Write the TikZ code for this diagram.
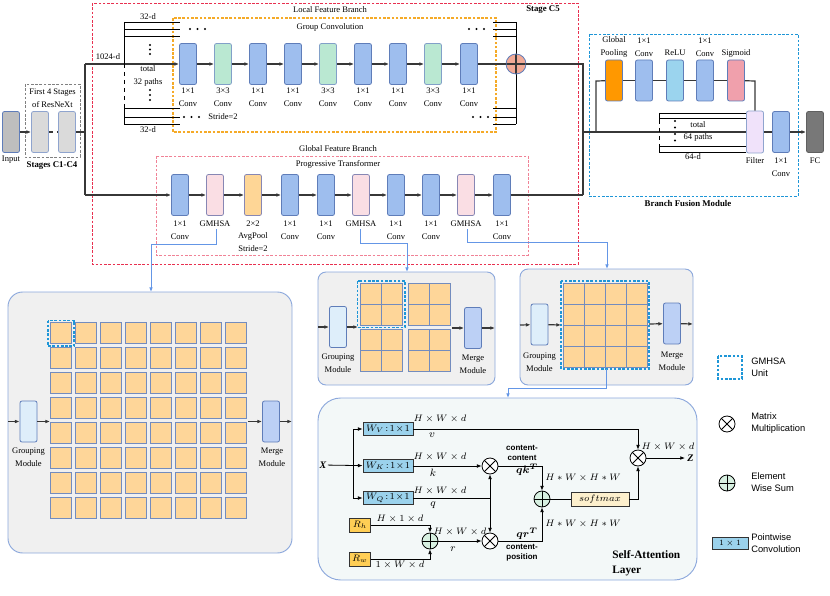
\documentclass[tikz,border=0pt]{standalone}
\usepackage{amsmath}
\usepackage{fontspec}
\setmainfont{Liberation Serif}
\setsansfont{Liberation Sans}
\usetikzlibrary{arrows.meta}
\definecolor{convblue}{RGB}{158,190,238}
\definecolor{convedge}{RGB}{95,125,185}
\definecolor{green3}{RGB}{186,232,210}
\definecolor{greenedge}{RGB}{130,160,200}
\definecolor{gmpink}{RGB}{250,222,228}
\definecolor{pinkedge}{RGB}{135,135,180}
\definecolor{avgor}{RGB}{254,214,150}
\definecolor{gpor}{RGB}{255,152,0}
\definecolor{reluc}{RGB}{155,212,238}
\definecolor{sigc}{RGB}{240,160,172}
\definecolor{filterc}{RGB}{240,226,250}
\definecolor{fcc}{RGB}{120,120,120}
\definecolor{inputc}{RGB}{190,190,190}
\definecolor{stagec}{RGB}{218,218,218}
\definecolor{sumc}{RGB}{242,170,150}
\definecolor{cellc}{RGB}{254,214,153}
\definecolor{celledge}{RGB}{115,140,190}
\definecolor{panelc}{RGB}{240,240,240}
\definecolor{paneledge}{RGB}{140,168,220}
\definecolor{grpc}{RGB}{222,238,250}
\definecolor{mrgc}{RGB}{188,208,245}
\definecolor{wbox}{RGB}{155,210,236}
\definecolor{rbox}{RGB}{255,206,85}
\definecolor{smc}{RGB}{253,240,205}
\definecolor{plusc}{RGB}{215,240,225}
\definecolor{redd}{RGB}{232,48,80}
\definecolor{orad}{RGB}{245,170,40}
\definecolor{pinkd}{RGB}{240,130,150}
\definecolor{blued}{RGB}{30,150,215}
\definecolor{linkc}{RGB}{100,150,230}
\definecolor{lineg}{RGB}{55,55,55}
\definecolor{sapanel}{RGB}{243,248,248}
\begin{document}
\begin{tikzpicture}[x=0.75pt,y=-0.75pt,
 font=\fontsize{6.4}{9.5}\selectfont,
 >={Latex[length=3.5pt,width=2.8pt]},
 blk/.style={rectangle, rounded corners=1.5pt, minimum width=12.75pt, minimum height=30.75pt, inner sep=0pt, line width=0.6pt},
 cb/.style={blk, fill=convblue, draw=convedge},
 gb/.style={blk, fill=green3, draw=greenedge},
 pb/.style={blk, fill=gmpink, draw=pinkedge},
 ob/.style={blk, fill=avgor, draw=pinkedge},
 txt/.style={inner sep=0pt, align=center},
 mainln/.style={draw=lineg, line width=0.9pt},
 thinln/.style={draw=black, line width=0.6pt},
 link/.style={draw=linkc, line width=0.7pt, ->},
 cell/.style={fill=cellc, draw=celledge, line width=0.5pt},
 panel/.style={fill=panelc, draw=paneledge, line width=0.7pt},
 hl/.style={draw=blued, line width=0.9pt, dash pattern=on 2pt off 1.2pt},
 otm/.style={circle, draw=black, fill=white, minimum size=12pt, inner sep=0pt, line width=0.6pt,
   path picture={\draw[line width=0.6pt] (path picture bounding box.north west)--(path picture bounding box.south east) (path picture bounding box.north east)--(path picture bounding box.south west);}},
 opl/.style={circle, draw=black, fill=plusc, minimum size=12pt, inner sep=0pt, line width=0.6pt,
   path picture={\draw[line width=0.6pt] (path picture bounding box.north)--(path picture bounding box.south) (path picture bounding box.east)--(path picture bounding box.west);}},
 mathlbl/.style={inner sep=0pt, font=\fontsize{7}{8}\selectfont},
 varlbl/.style={inner sep=0pt, font=\fontsize{8}{9}\selectfont},
 sansb/.style={inner sep=0pt, align=center, font=\fontsize{6}{7.5}\selectfont\sffamily\bfseries},
 legt/.style={inner sep=0pt, anchor=west, align=left, font=\fontsize{7}{9}\selectfont\sffamily}
]
\useasboundingbox (0,0) rectangle (830,595);

% ---------------- dashed frames ----------------
\draw[redd, line width=0.7pt, dash pattern=on 2pt off 1.2pt] (92,3) rectangle (578,264);
\node[txt] at (330,10) {Local Feature Branch};
\node[txt, font=\fontsize{6.6}{8}\selectfont\bfseries] at (543,10) {Stage C5};
\draw[orad, line width=0.8pt, dash pattern=on 2pt off 1.2pt] (173,18) rectangle (496,132);
\node[txt] at (330,27) {Group Convolution};
\node[txt] at (338,149) {Global Feature Branch};
\draw[pinkd, line width=0.6pt, dash pattern=on 2pt off 1.2pt] (156,156) rectangle (528,255);
\node[txt] at (338,164) {Progressive Transformer};
\draw[blued, line width=0.7pt, dash pattern=on 2pt off 1.2pt] (589,34) rectangle (798,196);
\node[txt, font=\fontsize{6.6}{8}\selectfont\bfseries] at (688,204) {Branch Fusion Module};

% ---------------- input & stages ----------------
\node[blk, fill=inputc, draw=convedge] (input) at (11,132) {};
\node[txt] at (11,160) {Input};
\draw[gray, line width=0.6pt, dash pattern=on 2pt off 1.2pt] (25,84) rectangle (80,157);
\node[txt] at (52.5,98) {First 4 Stages\\of ResNeXt};
\node[blk, fill=stagec, draw=convedge!70] (s1) at (40,132) {};
\node[blk, fill=stagec, draw=convedge!70] (s2) at (67,132) {};
\node[txt, font=\fontsize{6.6}{8}\selectfont\bfseries] at (52,166) {Stages C1-C4};
\draw[mainln,->] (input) -- (s1);
\draw[mainln, dashed] (s1) -- (s2);
\coordinate (jA) at (85,132);
\coordinate (jTop) at (85,64);
\coordinate (jBot) at (85,195);
\draw[mainln] (s2) -- (jA);
\draw[mainln] (jTop) -- (jBot);
\node[txt] at (108,57) {1024-d};

% ---------------- local branch ----------------
\foreach \n/\x/\s/\t in {c1/188/cb/1×1, c2/223/gb/3×3, c3/258/cb/1×1, c4/293/cb/1×1, c5/328/gb/3×3, c6/363/cb/1×1, c7/398/cb/1×1, c8/433/gb/3×3, c9/469/cb/1×1}{
  \node[\s] (\n) at (\x,64) {};
  \node[txt] at (\x,97.5) {\t\\Conv};
}
\node[txt] at (223,117) {Stride=2};
\draw[mainln,->] (jTop) -- (c1);
\foreach \a/\b in {c1/c2,c2/c3,c3/c4,c4/c5,c5/c6,c6/c7,c7/c8,c8/c9}{\draw[mainln,->] (\a) -- (\b);}
% left bundle
\foreach \yy in {22,29,36,108,117,124}{\draw[thinln] (124,\yy) -- (180,\yy);}
\draw[thinln] (124,22) -- (124,64);
\draw[thinln, dashed] (124,64) -- (124,108);
\draw[thinln] (124,108) -- (124,124);
\node[txt] at (148,17) {32-d};
\node[txt] at (148,130) {32-d};
\node[txt] at (148,76) {total\\32 paths};
\foreach \yy in {45,49.5,54,90,95,100}{\fill (150,\yy) circle (0.8pt);}
\foreach \xx in {190,197.5,205}{\fill (\xx,29) circle (0.8pt);}
\foreach \xx in {184,191.5,199}{\fill (\xx,117) circle (0.8pt);}
% right bundle
\foreach \yy in {22,29,36,108,117,124}{\draw[thinln] (493,\yy) -- (516,\yy);}
\draw[thinln] (516,22) -- (516,124);
\foreach \xx in {469,476.5,484}{\fill (\xx,29) circle (0.8pt);}
\foreach \xx in {473,480.5,488}{\fill (\xx,117) circle (0.8pt);}
\node[circle, fill=sumc, draw=convedge, minimum size=15pt, inner sep=0pt, line width=0.6pt,
  path picture={\draw[lineg, line width=0.8pt] (path picture bounding box.north)--(path picture bounding box.south) (path picture bounding box.east)--(path picture bounding box.west);}] (sum) at (516,64) {};
\coordinate (jR1) at (583,64);
\coordinate (jR2) at (583,195);
\coordinate (jR) at (583,132);
\draw[mainln] (c9) -- (sum) -- (jR1) -- (jR2);

% ---------------- global branch ----------------
\foreach \n/\x/\s in {g1/180/cb, g2/215/pb, g3/253/ob, g4/290/cb, g5/326/cb, g6/361/pb, g7/396/cb, g8/431/cb, g9/466/pb, g10/502/cb}{
  \node[\s] (\n) at (\x,195) {};
}
\foreach \x in {180,290,326,396,431,502}{\node[txt] at (\x,230) {1×1\\Conv};}
\foreach \x in {215,361,466}{\node[txt] at (\x,224) {GMHSA};}
\node[txt] at (253,236) {2×2\\AvgPool\\Stride=2};
\draw[mainln,->] (jBot) -- (g1);
\foreach \a/\b in {g1/g2,g2/g3,g3/g4,g4/g5,g5/g6,g6/g7,g7/g8,g8/g9,g9/g10}{\draw[mainln,->] (\a) -- (\b);}
\draw[mainln] (g10) -- (jR2);

% ---------------- fusion module ----------------
\foreach \n/\x/\f in {gp/614/gpor, f1/644/convblue, rl/675/reluc, f2/705/convblue, sg/736/sigc}{
  \node[blk, fill=\f, draw=convedge] (\n) at (\x,80.5) {};
}
\node[txt] at (614,47) {Global\\Pooling};
\node[txt] at (644,47) {1×1\\Conv};
\node[txt] at (675,53) {ReLU};
\node[txt] at (705,47) {1×1\\Conv};
\node[txt] at (736,53) {Sigmoid};
\node[blk, fill=filterc, draw=convedge!70, minimum height=31.5pt] (filt) at (755,132) {};
\node[cb] (fc1) at (781,132) {};
\node[blk, fill=fcc, draw=fcc!80!black] (fc) at (815,132) {};
\node[txt] at (755,161) {Filter};
\node[txt] at (781,167.5) {1×1\\Conv};
\node[txt] at (815,161) {FC};
\coordinate (jF) at (596,132);
\coordinate (jF2) at (596,81);
\coordinate (jS) at (755,81);
\draw[mainln] (jR) -- (filt);
\draw[mainln] (jF) -- (jF2) -- (gp);
\foreach \a/\b in {gp/f1,f1/rl,rl/f2,f2/sg}{\draw[mainln] (\a) -- (\b);}
\draw[mainln] (sg) -- (jS) -- (filt);
\draw[mainln] (filt) -- (fc1);
\draw[mainln,->] (fc1) -- (fc);
\foreach \yy in {113,118,146,152}{\draw[thinln] (659,\yy) -- (746,\yy);}
\draw[thinln] (659,113) -- (659,120);
\draw[thinln, dashed] (659,120) -- (659,146);
\draw[thinln] (659,146) -- (659,152);
\foreach \yy in {121,127.5,134,140.5}{\fill (675,\yy) circle (0.8pt);}
\node[txt] at (698,131.5) {total\\64 paths};
\node[txt] at (693,157) {64-d};

% ---------------- links to panels ----------------
\coordinate (l1a) at (216,229); \coordinate (l1b) at (216,244); \coordinate (l1c) at (151,244); \coordinate (l1d) at (151,292);
\draw[link] (l1a) -- (l1b) -- (l1c) -- (l1d);
\coordinate (l2a) at (360,229); \coordinate (l2b) at (360,243); \coordinate (l2c) at (407,243); \coordinate (l2d) at (407,272);
\draw[link] (l2a) -- (l2b) -- (l2c) -- (l2d);
\coordinate (l3a) at (467,229); \coordinate (l3b) at (467,242); \coordinate (l3c) at (607,242); \coordinate (l3d) at (607,269);
\draw[link] (l3a) -- (l3b) -- (l3c) -- (l3d);

% ---------------- big panel ----------------
\draw[panel, rounded corners=11pt] (8,292) rectangle (292,553);
\foreach \i in {0,...,7}{\foreach \j in {0,...,7}{\draw[cell] ({50+25*\i},{322+25*\j}) rectangle ++(21.5,21.5);}}
\draw[hl] (48,320.5) rectangle (74,346);
\node[blk, fill=grpc, draw=convedge] (grpA) at (28.5,421.5) {};
\node[blk, fill=mrgc, draw=convedge] (mrgA) at (271,421.5) {};
\node[txt] at (28.5,457.5) {Grouping\\Module};
\node[txt] at (272,457.5) {Merge\\Module};
\coordinate (pA1) at (8,421.5); \coordinate (pA2) at (50,421.5); \coordinate (pA3) at (248,421.5); \coordinate (pA4) at (292,421.5);
\draw[mainln,->] (pA1) -- (grpA);
\draw[mainln,->] (grpA) -- (pA2);
\draw[mainln,->] (pA3) -- (mrgA);
\draw[mainln,->] (mrgA) -- (pA4);

% ---------------- middle panel ----------------
\draw[panel, rounded corners=6pt] (318,272) rectangle (495,385);
\foreach \gx/\gy in {360/283, 408/283, 360/329, 408/329}{
  \draw[cell] (\gx,\gy) rectangle ++(42,42);
  \draw[celledge, line width=0.5pt] (\gx+21,\gy) -- (\gx+21,\gy+42) (\gx,\gy+21) -- (\gx+42,\gy+21);
}
\draw[hl] (357.5,281) rectangle (405,327.5);
\node[blk, fill=grpc, draw=convedge] (grpB) at (338,327) {};
\node[blk, fill=mrgc, draw=convedge] (mrgB) at (473,328) {};
\node[txt] at (338,363) {Grouping\\Module};
\node[txt] at (473,364) {Merge\\Module};
\coordinate (pB1) at (318,327); \coordinate (pB2) at (358,327); \coordinate (pB3) at (452,328); \coordinate (pB4) at (495,328);
\draw[mainln,->] (pB1) -- (grpB);
\draw[mainln,->] (grpB) -- (pB2);
\draw[mainln,->] (pB3) -- (mrgB);
\draw[mainln,->] (mrgB) -- (pB4);

% ---------------- right panel ----------------
\draw[panel, rounded corners=6pt] (520,269) rectangle (693,385);
\draw[cell] (563,283) rectangle (647,367);
\foreach \k in {1,2,3}{
  \draw[celledge, line width=0.5pt] (563+21*\k,283) -- (563+21*\k,367);
  \draw[celledge, line width=0.5pt] (563,283+21*\k) -- (647,283+21*\k);
}
\draw[hl] (561,281) rectangle (649,369);
\node[blk, fill=grpc, draw=convedge] (grpC) at (539.5,324.5) {};
\node[blk, fill=mrgc, draw=convedge] (mrgC) at (672,323.5) {};
\node[txt] at (539.5,362) {Grouping\\Module};
\node[txt] at (672,361) {Merge\\Module};
\coordinate (pC1) at (520,325); \coordinate (pC2) at (561,325); \coordinate (pC3) at (649,324); \coordinate (pC4) at (693,324);
\draw[mainln,->] (pC1) -- (grpC);
\draw[mainln,->] (grpC) -- (pC2);
\draw[mainln,->] (pC3) -- (mrgC);
\draw[mainln,->] (mrgC) -- (pC4);
\coordinate (l4a) at (606,369); \coordinate (l4b) at (606,388); \coordinate (l4c) at (508,388); \coordinate (l4d) at (508,398);
\draw[link] (l4a) -- (l4b) -- (l4c) -- (l4d);

% ---------------- self attention panel ----------------
\draw[fill=sapanel, draw=paneledge, line width=0.7pt, rounded corners=17pt] (318,398) rectangle (697,580);
\node[inner sep=1pt, font=\fontsize{7.5}{9}\selectfont\bfseries\itshape] (X) at (323,465) {X};
\foreach \n/\yy/\s in {Wv/429/V, Wk/466/K, Wq/498/Q}{
  \node[rectangle, fill=wbox, draw=black!80, line width=0.6pt, minimum width=37.5pt, minimum height=9.5pt, inner sep=0pt, font=\fontsize{7}{8}\selectfont] (\n) at (388,\yy) {$W_{\s}\!:\!1\!\times\! 1$};
}
\coordinate (xa) at (353,429); \coordinate (xb) at (353,498);
\draw[thinln,->] (X) -- (Wk);
\draw[thinln] (xa) -- (xb);
\draw[thinln,->] (xa) -- (Wv);
\draw[thinln,->] (xb) -- (Wq);
\node[otm] (m1) at (490,466) {};
\node[otm] (m2) at (490,541) {};
\node[otm] (m3) at (638,458) {};
\node[opl] (p1) at (430,541) {};
\node[opl] (p2) at (542,499) {};
\node[rectangle, fill=rbox, draw=black!80, line width=0.6pt, minimum width=15.5pt, minimum height=10.5pt, inner sep=0pt, font=\fontsize{7}{8}\selectfont] (Rh) at (360,525) {$R_h$};
\node[rectangle, fill=rbox, draw=black!80, line width=0.6pt, minimum width=15.5pt, minimum height=10.5pt, inner sep=0pt, font=\fontsize{7}{8}\selectfont] (Rw) at (360,559) {$R_w$};
\node[rectangle, fill=smc, draw=black!80, line width=0.6pt, minimum width=43.5pt, minimum height=10.5pt, inner sep=0pt, font=\fontsize{7}{8}\selectfont] (sm) at (600,499) {$softmax$};
\coordinate (vA) at (638,429);
\coordinate (qA) at (490,498);
\coordinate (rA) at (430,525); \coordinate (rB) at (430,559);
\coordinate (cA) at (542,466); \coordinate (cB) at (542,541);
\coordinate (sA) at (638,499);
\coordinate (zA) at (685,458);
\draw[thinln,->] (Wv) -- (vA) -- (m3);
\draw[thinln,->] (Wk) -- (m1);
\draw[thinln] (Wq) -- (qA);
\draw[thinln,->] (qA) -- (m1);
\draw[thinln,->] (qA) -- (m2);
\draw[thinln,->] (Rh) -- (rA) -- (p1);
\draw[thinln,->] (Rw) -- (rB) -- (p1);
\draw[thinln,->] (p1) -- (m2);
\draw[thinln,->] (m1) -- (cA) -- (p2);
\draw[thinln,->] (m2) -- (cB) -- (p2);
\draw[thinln] (p2) -- (sm);
\draw[thinln,->] (sm) -- (sA) -- (m3);
\draw[thinln,->] (m3) -- (zA);
\node[inner sep=0pt, anchor=west, font=\fontsize{7.5}{9}\selectfont\bfseries\itshape] at (687,458) {Z};
\node[mathlbl] at (440,419) {$H\times W\times d$};
\node[varlbl] at (432,435) {$v$};
\node[mathlbl] at (440,457) {$H\times W\times d$};
\node[varlbl] at (433,473) {$k$};
\node[mathlbl] at (440,491) {$H\times W\times d$};
\node[varlbl] at (433,505) {$q$};
\node[mathlbl] at (400,519) {$H\times 1\times d$};
\node[mathlbl] at (400,565) {$1\times W\times d$};
\node[mathlbl] at (460,532) {$H\times W\times d$};
\node[varlbl] at (453,549) {$r$};
\node[mathlbl, anchor=west] at (545,478) {$H*W\times H*W$};
\node[mathlbl, anchor=west] at (545,524) {$H*W\times H*W$};
\node[mathlbl] at (668,447) {$H\times W\times d$};
\node[sansb] at (522,453) {content-\\content};
\node[varlbl] at (527,470) {$\boldsymbol{qk^T}$};
\node[varlbl] at (527,534) {$\boldsymbol{qr^T}$};
\node[sansb] at (522,553) {content-\\position};
\node[inner sep=0pt, anchor=west, align=left, font=\fontsize{8.5}{11}\selectfont\bfseries] at (612,563) {Self-Attention\\Layer};

% ---------------- legend ----------------
\draw[hl] (718,356) rectangle (742,379);
\node[legt] at (751,367.5) {GMHSA\\Unit};
\node[otm] (lgm) at (727,424) {};
\node[legt] at (751,423) {Matrix\\Multiplication};
\node[opl] (lgp) at (727,483) {};
\node[legt] at (751,482) {Element\\Wise Sum};
\node[rectangle, fill=wbox, draw=black!80, line width=0.6pt, minimum width=27pt, minimum height=9.5pt, inner sep=0pt, font=\fontsize{6}{7}\selectfont] (lgw) at (730,543.5) {$1\times 1$};
\node[legt] at (751,543) {Pointwise\\Convolution};
\end{tikzpicture}
\end{document}
